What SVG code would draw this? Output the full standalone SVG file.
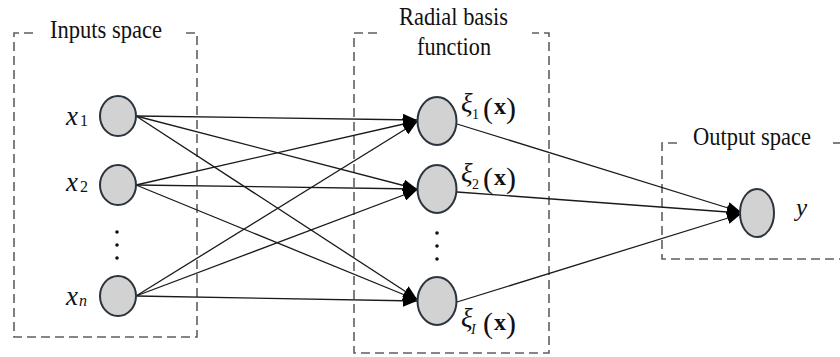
<svg xmlns="http://www.w3.org/2000/svg" width="840" height="357" viewBox="0 0 840 357">
<style>
.box{fill:none;stroke:#5f5f5f;stroke-width:1.6;stroke-dasharray:9 5}
.node{fill:#d2d2d2;stroke:#2b333d;stroke-width:2}
.lbl{font-family:'Liberation Serif','Times New Roman','DejaVu Serif',serif;font-size:25px;fill:#111}
.var{font-family:'Liberation Serif','Times New Roman','DejaVu Serif',serif;fill:#111}
.edge{stroke:#1a1a1a;stroke-width:1.3;fill:none}
.dot{fill:#111}
</style>
<defs>
<marker id="arr" markerUnits="userSpaceOnUse" markerWidth="14" markerHeight="12" refX="14" refY="6" orient="auto">
<path d="M0,0 L14,6 L0,12 z" fill="#000"/>
</marker>
</defs>
<rect width="840" height="357" fill="#fff"/>

<g id="boxes">
<path class="box" d="M33,33 H14 V337 H197 V33 H184"/>
<path class="box" d="M377,33 H354 V353 H549 V33 H532"/>
<path class="box" d="M677,143 H662 V259 H845"/>
<path class="box" d="M833,143 H845"/>
<text class="lbl" x="50" y="38" textLength="112" lengthAdjust="spacingAndGlyphs">Inputs space</text>
<text class="lbl" x="399" y="25" textLength="109" lengthAdjust="spacingAndGlyphs">Radial basis</text>
<text class="lbl" x="417" y="55" textLength="74" lengthAdjust="spacingAndGlyphs">function</text>
<text class="lbl" x="693" y="145" textLength="118" lengthAdjust="spacingAndGlyphs">Output space</text>
</g>

<g id="connectors">
<line class="edge" x1="136" y1="116" x2="417" y2="120" marker-end="url(#arr)"/>
<line class="edge" x1="136" y1="116" x2="417" y2="189" marker-end="url(#arr)"/>
<line class="edge" x1="136" y1="116" x2="417" y2="299" marker-end="url(#arr)"/>
<line class="edge" x1="136" y1="185" x2="417" y2="121" marker-end="url(#arr)"/>
<line class="edge" x1="136" y1="185" x2="417" y2="189" marker-end="url(#arr)"/>
<line class="edge" x1="136" y1="185" x2="417" y2="300" marker-end="url(#arr)"/>
<line class="edge" x1="136" y1="296" x2="417" y2="122" marker-end="url(#arr)"/>
<line class="edge" x1="136" y1="296" x2="417" y2="190" marker-end="url(#arr)"/>
<line class="edge" x1="136" y1="296" x2="417" y2="301" marker-end="url(#arr)"/>
<line class="edge" x1="457" y1="124" x2="741" y2="212" marker-end="url(#arr)"/>
<line class="edge" x1="457" y1="192" x2="741" y2="213" marker-end="url(#arr)"/>
<line class="edge" x1="457" y1="302" x2="741" y2="214" marker-end="url(#arr)"/>
</g>

<g id="input-x1">
<ellipse class="node" cx="118" cy="116" rx="18" ry="20"/>
<text class="var" x="66" y="125" font-size="27" font-style="italic">x</text>
<text class="var" x="80" y="126" font-size="16">1</text>
</g>
<g id="input-x2">
<ellipse class="node" cx="118" cy="185" rx="18" ry="20"/>
<text class="var" x="66" y="191" font-size="27" font-style="italic">x</text>
<text class="var" x="80" y="192" font-size="16">2</text>
</g>
<g id="input-dots">
<circle class="dot" cx="117" cy="232" r="1.8"/>
<circle class="dot" cx="117" cy="245" r="1.8"/>
<circle class="dot" cx="117" cy="258" r="1.8"/>
</g>
<g id="input-xn">
<ellipse class="node" cx="118" cy="296" rx="18" ry="20"/>
<text class="var" x="66" y="305" font-size="27" font-style="italic">x</text>
<text class="var" x="79" y="306" font-size="16" font-style="italic">n</text>
</g>

<g id="hidden-1">
<ellipse class="node" cx="437" cy="121" rx="19.5" ry="24"/>
<text class="var" x="461" y="112" font-size="27" font-style="italic">ξ</text>
<text class="var" x="472" y="119" font-size="14">1</text>
<text class="var" x="483" y="118" font-size="30">(</text>
<text class="var" x="494" y="114" font-size="24" font-weight="bold">x</text>
<text class="var" x="506" y="118" font-size="30">)</text>
</g>
<g id="hidden-2">
<ellipse class="node" cx="437" cy="189" rx="19.5" ry="24"/>
<text class="var" x="461" y="182" font-size="27" font-style="italic">ξ</text>
<text class="var" x="472" y="189" font-size="14">2</text>
<text class="var" x="483" y="188" font-size="30">(</text>
<text class="var" x="494" y="185" font-size="24" font-weight="bold">x</text>
<text class="var" x="506" y="188" font-size="30">)</text>
</g>
<g id="hidden-dots">
<circle class="dot" cx="437" cy="233" r="1.8"/>
<circle class="dot" cx="437" cy="246" r="1.8"/>
<circle class="dot" cx="437" cy="259" r="1.8"/>
</g>
<g id="hidden-I">
<ellipse class="node" cx="437" cy="301" rx="19.5" ry="24"/>
<text class="var" x="461" y="327" font-size="27" font-style="italic">ξ</text>
<text class="var" x="471" y="334" font-size="14" font-style="italic">I</text>
<text class="var" x="483" y="333" font-size="30">(</text>
<text class="var" x="494" y="330" font-size="24" font-weight="bold">x</text>
<text class="var" x="506" y="333" font-size="30">)</text>
</g>

<g id="output-y">
<ellipse class="node" cx="757" cy="213" rx="17" ry="24"/>
<text class="var" x="796" y="216" font-size="25" font-style="italic">y</text>
</g>
</svg>
